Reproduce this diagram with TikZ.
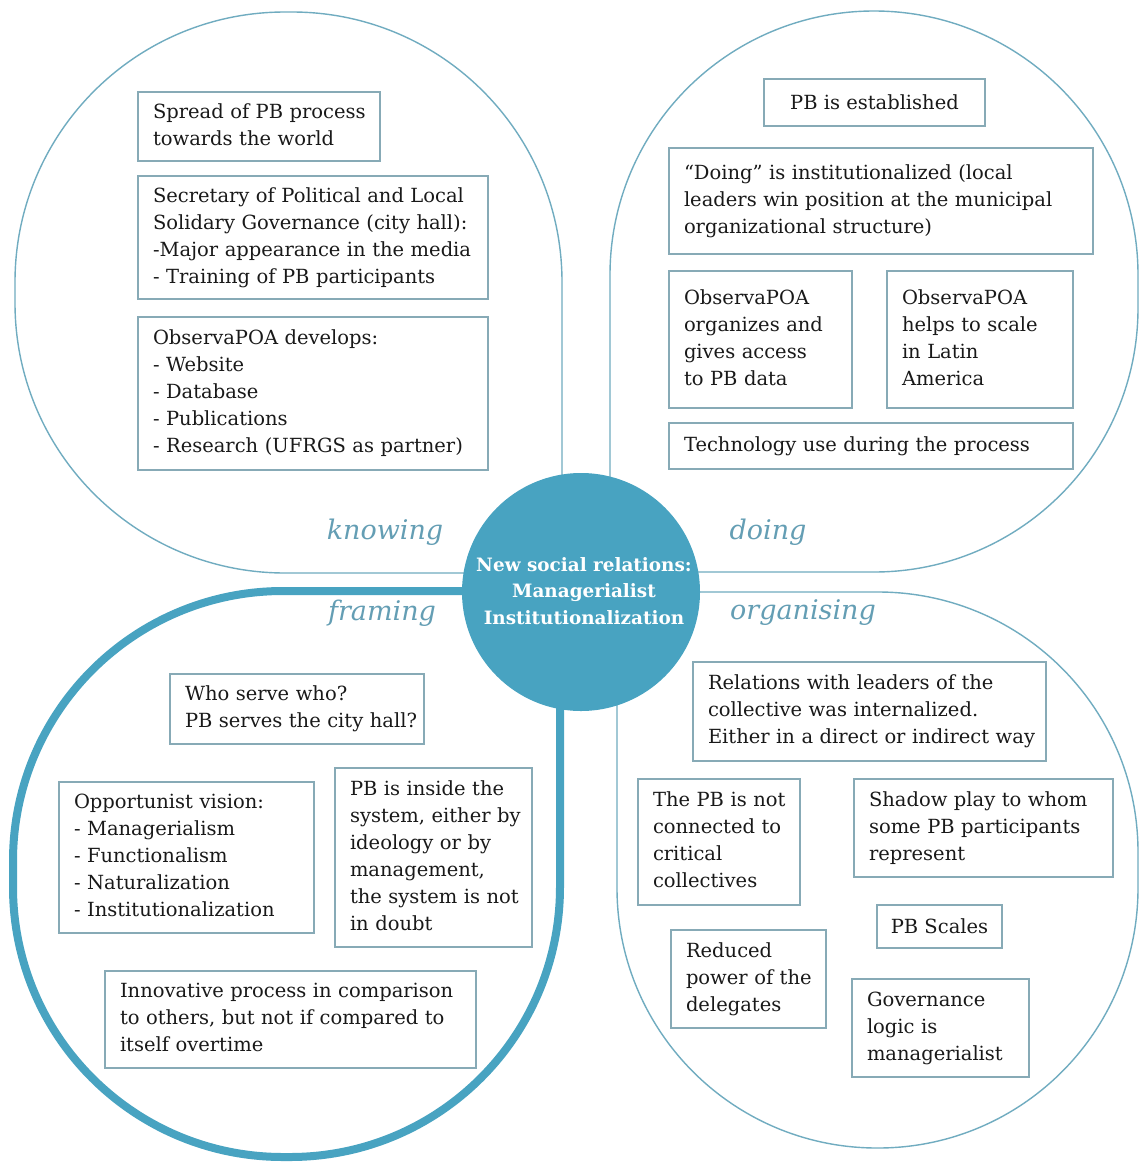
\documentclass[tikz,border=0pt]{standalone}
\usepackage{fontspec}
\setmainfont{DejaVu Serif}
\definecolor{maincol}{RGB}{72,163,193}
\definecolor{quadcol}{RGB}{112,172,192}
\definecolor{boxcol}{RGB}{135,170,182}
\definecolor{labcol}{RGB}{100,158,180}
\definecolor{txtcol}{RGB}{25,25,25}
\newcommand{\lns}[1]{\begin{tabular}{@{}l@{}}#1\end{tabular}}
\tikzset{
  quad/.style={draw=quadcol, line width=1.4pt},
  quadthick/.style={draw=maincol, line width=8pt},
  tbox/.style={draw=boxcol, line width=1.3pt, inner xsep=15pt, inner ysep=0pt,
    align=left, anchor=center, text=txtcol,
    font=\fontsize{19.5}{27}\selectfont},
  cbox/.style={draw=boxcol, line width=1.3pt, inner sep=0pt, align=center,
    anchor=center, text=txtcol, font=\fontsize{19.5}{27}\selectfont},
  lab/.style={text=labcol, font=\fontsize{27}{30}\selectfont\itshape, inner sep=0pt},
}
\newcommand{\bx}[6]{% name, x0, y0, x1, y1, content
  \pgfmathsetmacro{\bw}{#4-#2-30}\pgfmathsetmacro{\bh}{#5-#3}
  \node[tbox, text width=\bw pt, minimum height=\bh pt] (#1) at ({(#2+#4)/2},{(#3+#5)/2}) {#6};}
\newcommand{\cbx}[6]{% centred single-line box
  \pgfmathsetmacro{\bw}{#4-#2}\pgfmathsetmacro{\bh}{#5-#3}
  \node[cbox, minimum width=\bw pt, minimum height=\bh pt] (#1) at ({(#2+#4)/2},{(#3+#5)/2}) {#6};}
\begin{document}
\begin{tikzpicture}[x=1pt,y=-1pt]
\useasboundingbox[fill=white] (0,0) rectangle (1139,1165);
% quadrants
\draw[quad] (562,573) -- (285,573) arc[start angle=90, end angle=180, radius=270]
  -- (15,282) arc[start angle=180, end angle=270, radius=270]
  -- (292,12) arc[start angle=270, end angle=360, radius=270] -- cycle;
\draw[quad] (610,572) -- (610,275) arc[start angle=180, end angle=270, radius=264]
  arc[start angle=270, end angle=360, radius=264]
  -- (1138,308) arc[start angle=0, end angle=90, radius=264] -- cycle;
\draw[quad] (617,592) -- (878,592) arc[start angle=270, end angle=360, radius=260]
  -- (1138,888) arc[start angle=0, end angle=90, radius=260]
  -- (877,1148) arc[start angle=90, end angle=180, radius=260] -- cycle;
\draw[quadthick] (560,591) -- (283,591) arc[start angle=270, end angle=180, radius=270]
  -- (13,887) arc[start angle=180, end angle=90, radius=270]
  -- (290,1157) arc[start angle=90, end angle=0, radius=270] -- cycle;
% centre
\node[circle, fill=maincol, minimum size=238pt, inner sep=0pt] (core) at (581,592) {};
\node[text=white, align=center, font=\fontsize{18.4}{26.5}\selectfont\bfseries] (coretext) at (584,591)
  {New social relations:\\Managerialist\\Institutionalization};
% labels
\node[lab] (knowing) at (385,532) {knowing};
\node[lab] (doing) at (768,532) {doing};
\node[lab] (framing) at (382,613) {framing};
\node[lab] (organising) at (803,613) {organising};
% knowing boxes
\bx{a1}{138}{92}{380}{161}{\lns{Spread of PB process\\towards the world}}
\bx{a2}{138}{176}{488}{299}{\lns{Secretary of Political and Local\\Solidary Governance (city hall):\\-Major appearance in the media\\- Training of PB participants}}
\bx{a3}{138}{317}{488}{470}{\lns{ObservaPOA develops:\\- Website\\- Database\\- Publications\\- Research (UFRGS as partner)}}
% doing boxes
\cbx{b1}{764}{79}{985}{126}{PB is established}
\bx{b2}{669}{148}{1093}{254}{\lns{“Doing” is institutionalized (local\\leaders win position at the municipal\\organizational structure)}}
\bx{b3}{669}{271}{852}{408}{\lns{ObservaPOA\\organizes and\\gives access\\to PB data}}
\bx{b4}{887}{271}{1073}{408}{\lns{ObservaPOA\\helps to scale\\in Latin\\America}}
\bx{b5}{669}{423}{1073}{469}{\lns{Technology use during the process}}
% framing boxes
\bx{c1}{170}{674}{424}{744}{\lns{Who serve who?\\PB serves the city hall?}}
\bx{c2}{59}{782}{314}{933}{\lns{Opportunist vision:\\- Managerialism\\- Functionalism\\- Naturalization\\- Institutionalization}}
\bx{c3}{335}{768}{532}{947}{\lns{PB is inside the\\system, either by\\ideology or by\\management,\\the system is not\\in doubt}}
\bx{c4}{105}{971}{476}{1068}{\lns{Innovative process in comparison\\to others, but not if compared to\\itself overtime}}
% organising boxes
\bx{d1}{693}{662}{1046}{761}{\lns{Relations with leaders of the\\collective was internalized.\\Either in a direct or indirect way}}
\bx{d2}{638}{779}{800}{905}{\lns{The PB is not\\connected to\\critical\\collectives}}
\bx{d3}{854}{779}{1113}{877}{\lns{Shadow play to whom\\some PB participants\\represent}}
\cbx{d4}{877}{905}{1002}{948}{PB Scales}
\bx{d5}{671}{930}{826}{1028}{\lns{Reduced\\power of the\\delegates}}
\bx{d6}{852}{979}{1029}{1077}{\lns{Governance\\logic is\\managerialist}}
\end{tikzpicture}
\end{document}
